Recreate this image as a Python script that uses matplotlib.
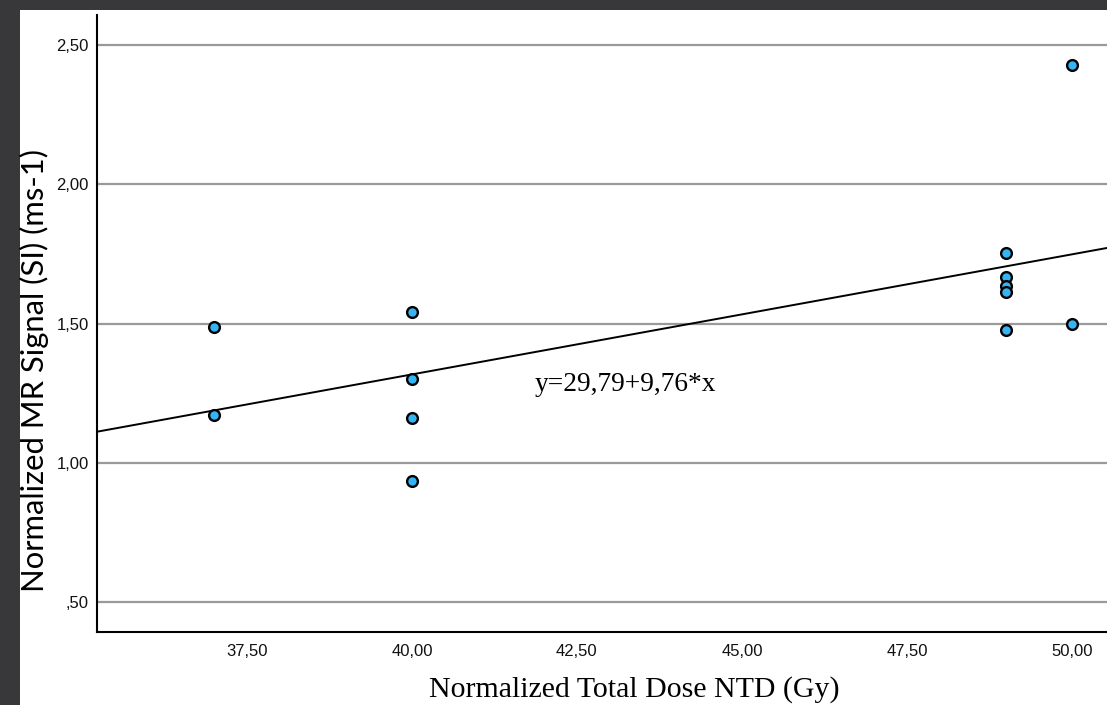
import numpy as np
import matplotlib.pyplot as plt
from matplotlib.patches import Rectangle

# Dados
dose = [37, 37, 40, 40, 40, 40, 49, 49, 49, 49, 49, 50, 50]
sinal = [1.486, 1.170, 1.543, 1.302, 1.162, 0.935,
         1.753, 1.667, 1.634, 1.612, 1.475, 2.428, 1.500]
x_ticks = [37.5, 40.0, 42.5, 45.0, 47.5, 50.0]
y_ticks = [0.5, 1.0, 1.5, 2.0, 2.5]
equacao = "y=29,79+9,76*x"

W, H = 1107, 705
fig = plt.figure(figsize=(W / 100, H / 100), dpi=100)
fig.patch.set_facecolor('#38383a')
# área branca (recorte da figura original)
fig.add_artist(Rectangle((20 / W, 0), 1, 1 - 10 / H, transform=fig.transFigure,
                         facecolor='white', edgecolor='none', zorder=0))

ax = fig.add_axes([97 / W, 1 - 632 / H, 1 - 97 / W, (632 - 15) / H])
ax.set_facecolor('white')

ax.set_xlim(35.23, 50.53)
ax.set_ylim(0.392, 2.608)

# grade horizontal
for v in y_ticks:
    ax.axhline(v, color='#9a9a9a', linewidth=1.6, zorder=1)

# reta de regressão
b, a = np.polyfit(dose, sinal, 1)
xs = np.array(ax.get_xlim())
ax.plot(xs, a + b * xs, color='black', linewidth=1.4, zorder=2)

ax.scatter(dose, sinal, s=60, facecolor='#35b4f5', edgecolor='black',
           linewidth=1.7, zorder=3)

ax.text(41.86, 1.281, equacao, fontsize=19.7, family='Liberation Serif',
        va='center', ha='left')

def fmt(v):
    s = f'{v:.2f}'.replace('.', ',')
    return s[1:] if s.startswith('0') else s

ax.set_xticks(x_ticks)
ax.set_xticklabels([fmt(v) for v in x_ticks])
ax.set_yticks(y_ticks)
ax.set_yticklabels([fmt(v) for v in y_ticks])
ax.tick_params(length=0, labelsize=12, pad=6)
ax.tick_params(axis='x', pad=9)
for lab in ax.get_xticklabels() + ax.get_yticklabels():
    lab.set_family('Liberation Sans')
    lab.set_color('#111111')

for side in ['top', 'right']:
    ax.spines[side].set_visible(False)
for side in ['left', 'bottom']:
    ax.spines[side].set_linewidth(1.5)

fig.text(34 / W, 1 - 371 / H, "Normalized MR Signal (SI) (ms-1)", rotation=90,
         fontsize=22.3, family='Lato', ha='center', va='center')
fig.text(634 / W, 1 - 690 / H, "Normalized Total Dose NTD (Gy)",
         fontsize=21.5, family='Liberation Serif', ha='center', va='center')

fig.savefig('out.png', dpi=100, facecolor=fig.get_facecolor())
